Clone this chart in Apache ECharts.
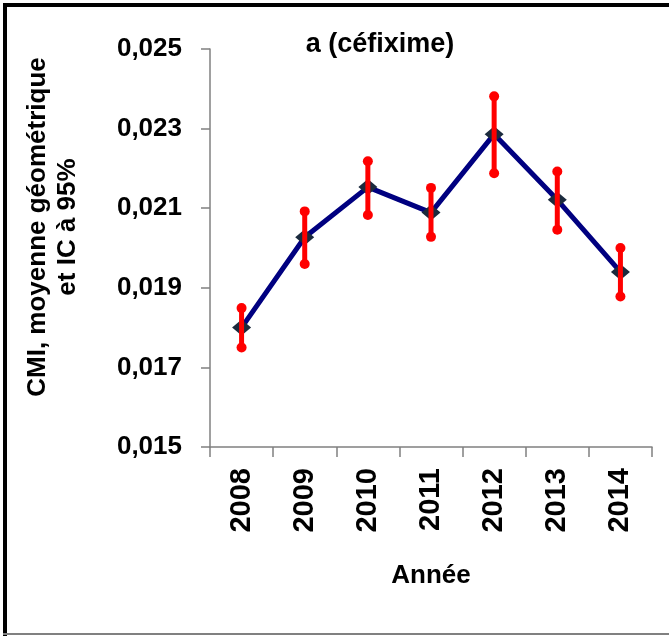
<!DOCTYPE html>
<html>
<head>
<meta charset="utf-8">
<script src="https://cdn.jsdelivr.net/npm/echarts@6/dist/echarts.min.js"></script>
<style>html,body{margin:0;padding:0;background:#fff}#c{width:669px;height:636px}</style>
</head>
<body>
<div id="c"></div>
<script>
const years = ['2008','2009','2010','2011','2012','2013','2014'];
const geoMean = [0.0180, 0.02027, 0.02153, 0.02089, 0.02286, 0.02121, 0.0194];
const ciLow  = [0.0175, 0.0196, 0.02083, 0.02028, 0.02188, 0.02046, 0.01878];
const ciHigh = [0.01849, 0.02092, 0.02218, 0.02151, 0.02381, 0.02192, 0.0200];
const yMin = 0.015, yMax = 0.025, yStep = 0.002;
const titleText = 'a (céfixime)';
const xName = 'Année';
const yName = 'CMI, moyenne géométrique\net IC à 95%';

const FONT = '"Liberation Sans", Arial, sans-serif';
const chart = echarts.init(document.getElementById('c'));
const errData = years.map((y, i) => [i, ciLow[i], ciHigh[i]]);

chart.setOption({
  animation: false,
  backgroundColor: '#fff',
  title: {
    text: titleText, left: 375, top: 26, textAlign: 'center',
    textStyle: { fontFamily: FONT, fontWeight: 'bold', fontSize: 27, color: '#000' }
  },
  grid: { left: 210, right: 17, top: 49, bottom: 189 },
  xAxis: {
    type: 'category', data: years, boundaryGap: true,
    name: xName, nameLocation: 'middle', nameGap: 116,
    nameTextStyle: { fontFamily: FONT, fontWeight: 'bold', fontSize: 26, color: '#000' },
    axisLine: { lineStyle: { color: '#808080', width: 1.5 } },
    axisTick: { show: true, length: 10, alignWithLabel: false, lineStyle: { color: '#808080', width: 1.5 } },
    axisLabel: { rotate: 90, margin: 21, fontFamily: FONT, fontWeight: 'bold', fontSize: 29, color: '#000' },
    splitLine: { show: false }
  },
  yAxis: {
    type: 'value', min: yMin, max: yMax, interval: yStep,
    axisLine: { show: true, lineStyle: { color: '#808080', width: 1.5 } },
    axisTick: { show: true, length: 9, lineStyle: { color: '#808080', width: 1.5 } },
    axisLabel: {
      margin: 28, fontFamily: FONT, fontWeight: 'bold', fontSize: 26, color: '#000',
      formatter: v => v.toFixed(3).replace('.', ',')
    },
    splitLine: { show: false }
  },
  graphic: [
    { type: 'rect', shape: { x: 3, y: 3, width: 666, height: 4 }, style: { fill: '#000' }, silent: true },
    { type: 'rect', shape: { x: 3, y: 3, width: 4, height: 633 }, style: { fill: '#000' }, silent: true },
    { type: 'rect', shape: { x: 3, y: 633, width: 666, height: 2 }, style: { fill: '#808080' }, silent: true },
    {
      type: 'text', x: 53, y: 227, rotation: Math.PI / 2,
      style: {
        text: yName, fill: '#000', font: 'bold 26px ' + FONT,
        textAlign: 'center', textVerticalAlign: 'middle', lineHeight: 30
      },
      silent: true
    }
  ],
  series: [
    {
      type: 'line', data: geoMean, z: 2,
      lineStyle: { color: '#000080', width: 5 },
      symbol: 'diamond', symbolSize: [19, 16],
      itemStyle: { color: '#1b2a3d' }
    },
    {
      type: 'custom', data: errData, z: 5,
      renderItem: function (params, api) {
        const x = api.value(0);
        const lo = api.coord([x, api.value(1)]);
        const hi = api.coord([x, api.value(2)]);
        const st = { fill: '#ff0000' };
        return {
          type: 'group',
          children: [
            { type: 'line', shape: { x1: lo[0], y1: lo[1], x2: hi[0], y2: hi[1] }, style: { stroke: '#ff0000', lineWidth: 5 } },
            { type: 'circle', shape: { cx: lo[0], cy: lo[1], r: 5 }, style: st },
            { type: 'circle', shape: { cx: hi[0], cy: hi[1], r: 5 }, style: st }
          ]
        };
      }
    }
  ]
});
</script>
</body>
</html>
